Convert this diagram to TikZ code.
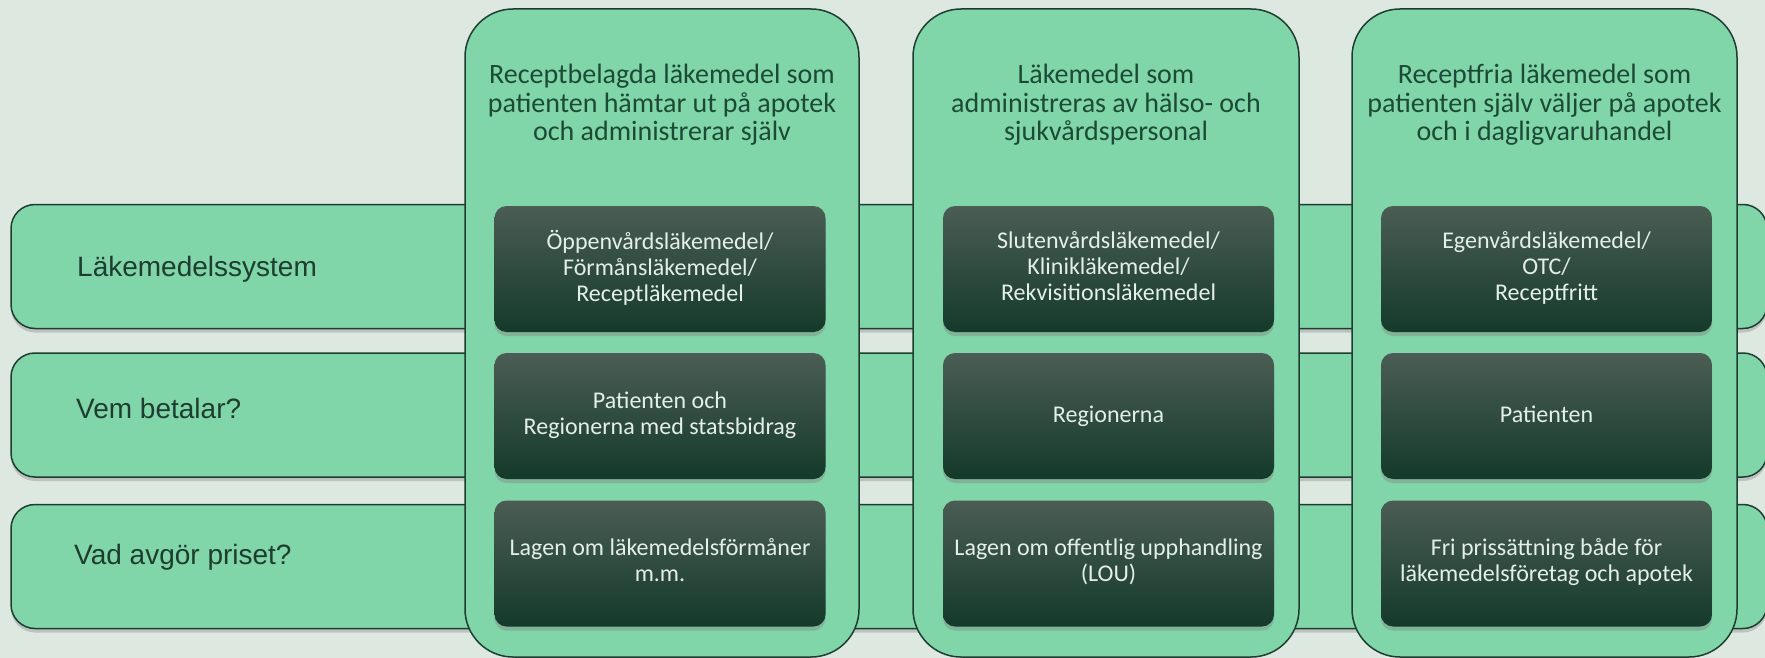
\documentclass[tikz,border=0pt]{standalone}
\usepackage{fontspec}
\setmainfont{Carlito}
\newfontfamily\arialfont{Liberation Sans}
\usepackage{tikz}
\usetikzlibrary{shadows}
\definecolor{bgcol}{HTML}{DDE8E1}
\definecolor{lightgreen}{HTML}{80D6A8}
\definecolor{edgecol}{HTML}{1E3D30}
\definecolor{headcol}{HTML}{1C4A36}
\definecolor{boxtop}{HTML}{4B5D54}
\definecolor{boxmid}{HTML}{1A4331}
\definecolor{boxbot}{HTML}{143A2A}
\definecolor{boxtext}{HTML}{E3EFE7}
\newcommand{\boxstrut}{\rule[-6.5pt]{0pt}{26pt}}
\newcommand{\headstrut}{\rule[-7pt]{0pt}{28.5pt}}

\begin{document}
\begin{tikzpicture}[x=1pt,y=-1pt,
  rowbox/.style={draw=edgecol, line width=1.5pt, fill=lightgreen, rounded corners=24pt,
    minimum width=1756pt, minimum height=124pt,
    drop shadow={shadow xshift=0pt, shadow yshift=-4pt, opacity=0.35}},
  rowtext/.style={anchor=base west, inner sep=0pt, text=edgecol,
    font=\arialfont\fontsize{28}{34}\selectfont},
  colbox/.style={draw=edgecol, line width=1.5pt, fill=lightgreen, rounded corners=48pt,
    minimum height=648pt},
  headtext/.style={text=headcol, align=center, inner sep=0pt,
    font=\fontsize{28}{28.5}\selectfont,
    execute at begin node=\headstrut, execute at end node=\headstrut},
  darkbox/.style={rounded corners=12pt, minimum width=331pt, minimum height=126pt,
    top color=boxtop, middle color=boxmid, bottom color=boxbot,
    text=boxtext, align=center, inner sep=0pt, font=\fontsize{24}{26}\selectfont,
    execute at begin node=\boxstrut, execute at end node=\boxstrut,
    drop shadow={shadow xshift=0pt, shadow yshift=-4pt, opacity=0.4}}]

\path[use as bounding box, fill=bgcol] (0,0) rectangle (1765,658);

% rader
\node[rowbox] (system) at (889,266.5) {};
\node[rowbox] (betalar) at (889,415) {};
\node[rowbox] (priset) at (889,566.5) {};
\node[rowtext] (systemtext) at (77,276.7) {Läkemedelssystem};
\node[rowtext] (betalartext) at (76,418.3) {Vem betalar?};
\node[rowtext] (prisettext) at (74,564.3) {Vad avgör priset?};

% kolumner
\node[colbox, minimum width=394pt] (recept) at (662,333) {};
\node[colbox, minimum width=386pt] (vard) at (1106,333) {};
\node[colbox, minimum width=385pt] (fria) at (1544.5,333) {};

\node[headtext] (receptrubrik) at (662,106) {Receptbelagda läkemedel som\\patienten hämtar ut på apotek\\och administrerar själv};
\node[headtext] (vardrubrik) at (1106,106) {Läkemedel som\\administreras av hälso- och\\sjukvårdspersonal};
\node[headtext] (friarubrik) at (1544.5,106) {Receptfria läkemedel som\\patienten själv väljer på apotek\\och i dagligvaruhandel};

% rutor
\node[darkbox] (receptsystem) at (660,269) {Öppenvårdsläkemedel/\\Förmånsläkemedel/\\Receptläkemedel};
\node[darkbox] (receptbetalar) at (660,416) {Patienten och\\Regionerna med statsbidrag};
\node[darkbox] (receptpris) at (660,563.5) {Lagen om läkemedelsförmåner\\m.m.};

\node[darkbox] (vardsystem) at (1108.5,269) {Slutenvårdsläkemedel/\\Klinikläkemedel/\\Rekvisitionsläkemedel};
\node[darkbox] (vardbetalar) at (1108.5,416) {Regionerna};
\node[darkbox] (vardpris) at (1108.5,563.5) {Lagen om offentlig upphandling\\(LOU)};

\node[darkbox] (friasystem) at (1546.5,269) {Egenvårdsläkemedel/\\OTC/\\Receptfritt};
\node[darkbox] (friabetalar) at (1546.5,416) {Patienten};
\node[darkbox] (friapris) at (1546.5,563.5) {Fri prissättning både för\\läkemedelsföretag och apotek};
\end{tikzpicture}
\end{document}
